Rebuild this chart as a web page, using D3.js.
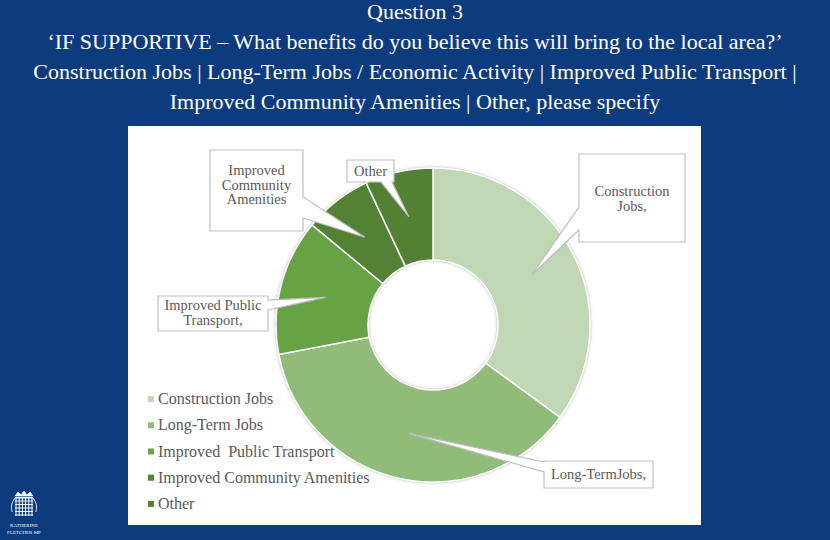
<!DOCTYPE html>
<html>
<head>
<meta charset="utf-8">
<script src="https://cdnjs.cloudflare.com/ajax/libs/d3/7.8.5/d3.min.js"></script>
<style>
  html, body { margin: 0; padding: 0; background: #0d3c7e; }
  svg { display: block; }
</style>
</head>
<body>
<svg width="830" height="540"></svg>
<script>
// chart data
var categories = ['Construction Jobs', 'Long-Term Jobs', 'Improved  Public Transport', 'Improved Community Amenities', 'Other'];
var shares = [35, 37, 14, 7, 7];
var colours = ['#bfd7b2', '#90bb78', '#67a244', '#548235', '#528134'];
var calloutText = [['Construction', 'Jobs,'], ['Long-TermJobs,'], ['Improved Public', 'Transport,'], ['Improved', 'Community', 'Amenities'], ['Other']];
var titleLines = [
    'Question 3',
    '\u2018IF SUPPORTIVE \u2013 What benefits do you believe this will bring to the local area?\u2019',
    'Construction Jobs | Long-Term Jobs / Economic Activity | Improved Public Transport |',
    'Improved Community Amenities | Other, please specify'
];

var svg = d3.select('svg');
var serif = "'Liberation Serif', 'DejaVu Serif', serif";

// title
svg.append('g').selectAll('text')
    .data(titleLines)
    .enter().append('text')
    .attr('x', 415)
    .attr('y', function(d, i) { return i == 0 ? 19 : 19 + i * 30; })
    .attr('text-anchor', 'middle')
    .attr('fill', '#ffffff')
    .style('font-family', serif)
    .style('font-size', '22px')
    .text(function(d) { return d; });

// white panel
svg.append('rect')
    .attr('x', 128).attr('y', 126)
    .attr('width', 573).attr('height', 399)
    .attr('fill', '#ffffff');

// donut
var cx = 433, cy = 325, rOut = 157, rIn = 65;
var pie = d3.pie().sort(null).value(function(d) { return d; });
var arcs = pie(shares);
var arc = d3.arc().innerRadius(rIn).outerRadius(rOut);

var defs = svg.append('defs');
defs.append('filter').attr('id', 'soft')
    .append('feGaussianBlur').attr('stdDeviation', 1.2);

var donut = svg.append('g').attr('transform', 'translate(' + cx + ',' + cy + ')');

donut.append('circle').attr('r', rOut + 0.5)
    .attr('fill', 'none').attr('stroke', '#c8c8c8').attr('stroke-width', 2)
    .attr('filter', 'url(#soft)');
donut.append('circle').attr('r', rIn - 0.5)
    .attr('fill', 'none').attr('stroke', '#c8c8c8').attr('stroke-width', 2)
    .attr('filter', 'url(#soft)');

donut.selectAll('path.slice')
    .data(arcs)
    .enter().append('path')
    .attr('class', 'slice')
    .attr('d', arc)
    .attr('fill', function(d, i) { return colours[i]; })
    .attr('stroke', '#ffffff')
    .attr('stroke-width', 1.5);

// callout boxes: box, which side the wedge leaves from and where along it
var callouts = [
    { box: [579, 154, 106, 88], side: 'left', base: [207, 230], lines: calloutText[0], ty: 196 },
    { box: [544, 461, 109, 27], side: 'left', base: [462, 472], lines: calloutText[1], ty: 479 },
    { box: [158, 296, 110, 35], side: 'right', base: [300, 310], lines: calloutText[2], ty: 310 },
    { box: [210, 150, 93, 81], side: 'right', base: [197, 218], lines: calloutText[3], ty: 175 },
    { box: [347, 160, 47, 22], side: 'bottom', base: [381, 392], lines: calloutText[4], ty: 176 }
];

function calloutPath(c, tip) {
    var x = c.box[0], y = c.box[1], w = c.box[2], h = c.box[3];
    var a = c.base[0], b = c.base[1];
    var p = d3.path();
    p.moveTo(x, y);
    p.lineTo(x + w, y);
    if (c.side == 'right') {
        p.lineTo(x + w, a); p.lineTo(tip[0], tip[1]); p.lineTo(x + w, b);
    }
    p.lineTo(x + w, y + h);
    if (c.side == 'bottom') {
        p.lineTo(b, y + h); p.lineTo(tip[0], tip[1]); p.lineTo(a, y + h);
    }
    p.lineTo(x, y + h);
    if (c.side == 'left') {
        p.lineTo(x, b); p.lineTo(tip[0], tip[1]); p.lineTo(x, a);
    }
    p.closePath();
    return p.toString();
}

var labels = svg.append('g');
callouts.forEach(function(c, i) {
    var m = arc.centroid(arcs[i]);
    var tip = [cx + m[0], cy + m[1]];
    labels.append('path')
        .attr('d', calloutPath(c, tip))
        .attr('fill', '#ffffff')
        .attr('stroke', '#bfbfbf')
        .attr('stroke-width', 1.2);
    labels.append('text')
        .attr('x', c.box[0] + c.box[2] / 2)
        .attr('y', c.ty)
        .attr('text-anchor', 'middle')
        .attr('fill', '#595959')
        .style('font-family', serif)
        .style('font-size', '14.5px')
        .selectAll('tspan')
        .data(c.lines)
        .enter().append('tspan')
        .attr('x', c.box[0] + c.box[2] / 2)
        .attr('dy', function(d, j) { return j == 0 ? 0 : 14.5; })
        .text(function(d) { return d; });
});

// legend
var legendY = d3.scaleBand().domain(categories).range([386, 517]);
var legend = svg.append('g').selectAll('g')
    .data(categories)
    .enter().append('g')
    .attr('transform', function(d) { return 'translate(148,' + (legendY(d) + legendY.bandwidth() / 2) + ')'; });
legend.append('rect')
    .attr('x', 0).attr('y', -3)
    .attr('width', 6).attr('height', 6)
    .attr('fill', function(d, i) { return colours[i]; });
legend.append('text')
    .attr('x', 10).attr('y', 5)
    .attr('fill', '#595959')
    .style('font-family', serif)
    .style('font-size', '16px')
    .style('white-space', 'pre')
    .text(function(d) { return d; });

// portcullis logo
var logo = svg.append('g').attr('transform', 'translate(24,506)').attr('stroke', '#ffffff').attr('fill', 'none');
logo.append('path').attr('d', 'M-9,-10 L-6,-14 L-3,-11 L0,-15 L3,-11 L6,-14 L9,-10 Z').attr('fill', '#ffffff').attr('stroke-width', 0.6);
logo.append('rect').attr('x', -9).attr('y', -9).attr('width', 18).attr('height', 1.5).attr('fill', '#ffffff').attr('stroke', 'none');
d3.range(6).forEach(function(k) {
    logo.append('line').attr('x1', -8 + k * 3.2).attr('x2', -8 + k * 3.2).attr('y1', -8).attr('y2', 10).attr('stroke-width', 1);
});
d3.range(5).forEach(function(k) {
    logo.append('line').attr('x1', -9).attr('x2', 9).attr('y1', -5 + k * 3.5).attr('y2', -5 + k * 3.5).attr('stroke-width', 0.9);
});
logo.append('path').attr('d', 'M-9,-8 Q-14,-2 -12,6 M9,-8 Q14,-2 12,6').attr('stroke-width', 0.8);
svg.append('g').selectAll('text')
    .data(['KATHERINE', 'FLETCHER MP'])
    .enter().append('text')
    .attr('x', 24)
    .attr('y', function(d, i) { return 527 + i * 7; })
    .attr('text-anchor', 'middle')
    .attr('fill', '#ffffff')
    .style('font-family', serif)
    .style('font-size', '5px')
    .text(function(d) { return d; });
</script>
</body>
</html>
